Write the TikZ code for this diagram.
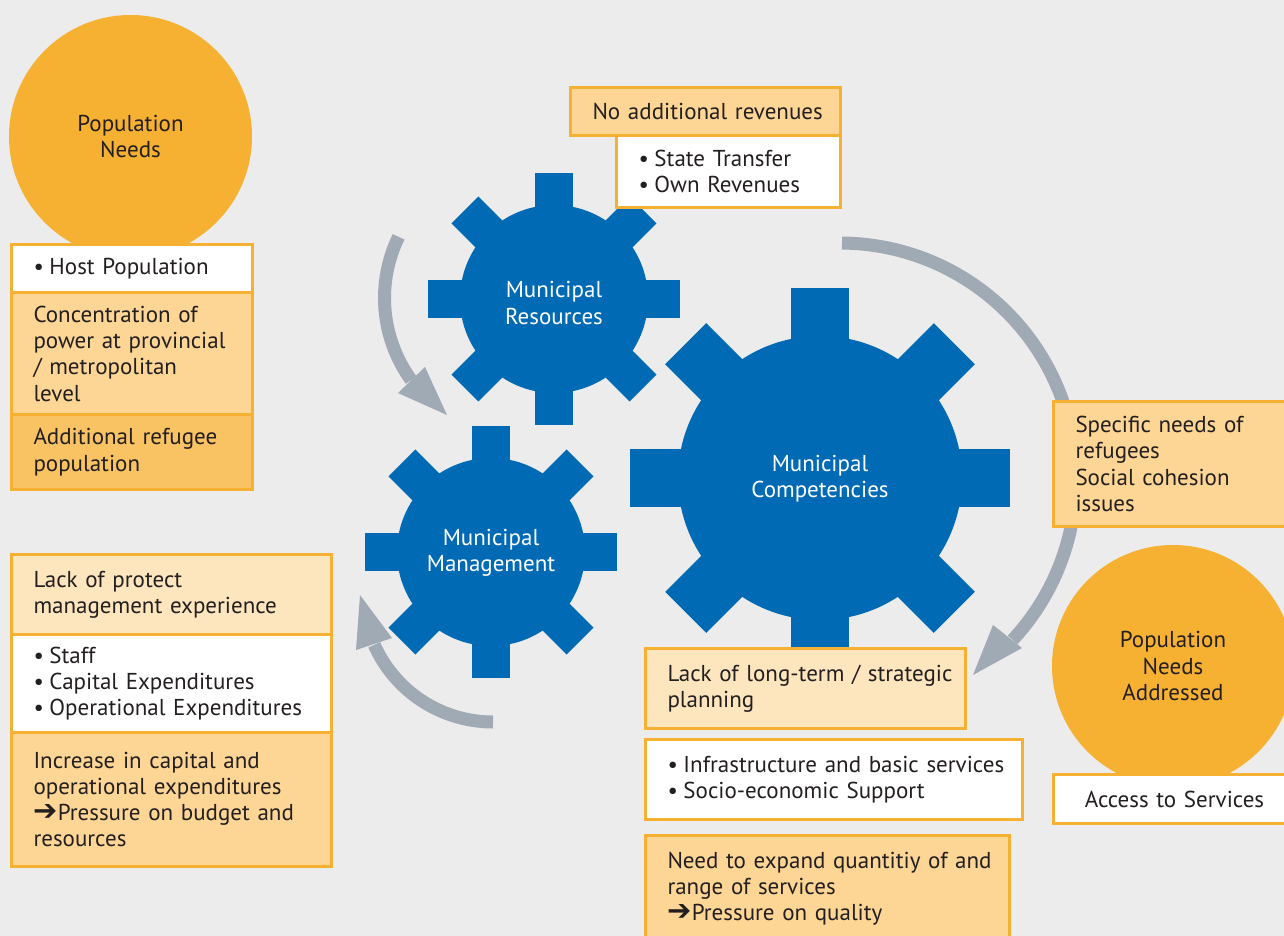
\documentclass[tikz,border=0pt]{standalone}
\usepackage{fontspec}
\setmainfont{PT Sans}
\newfontfamily\symfont{DejaVu Sans}
\usetikzlibrary{calc}
\definecolor{bg}{HTML}{EBECEB}
\definecolor{orng}{HTML}{F6B133}
\definecolor{gearblue}{HTML}{016AB5}
\definecolor{boxlight}{HTML}{FDE5BE}
\definecolor{boxmed}{HTML}{FDD594}
\definecolor{boxdark}{HTML}{F9C263}
\definecolor{arrowgray}{HTML}{A0AAB4}
\definecolor{txt}{HTML}{231F20}
\newcommand{\bul}{\makebox[16pt][l]{•}}
\newcommand{\rarr}{{\symfont\fontsize{29}{26.3}\selectfont ➔}}
\newcommand{\drawgear}[5]{%
  \fill[gearblue] (#1,#2) circle[radius=#3];
  \foreach \a in {0,45,...,315}{
    \fill[gearblue, shift={(#1,#2)}, rotate=\a] (-#5/2,0) rectangle (#5/2,#4);
  }
}
\begin{document}
\begin{tikzpicture}[x=1pt,y=-1pt,
  every node/.style={font=\fontsize{23}{26.3}\selectfont, text=txt},
  bx/.style={draw=orng, line width=3pt, anchor=north west, inner xsep=22pt, inner ysep=0pt, align=left},
  ctr/.style={align=center},
  circ/.style={circle, fill=orng, draw=none, inner sep=0pt, align=center},
  geartxt/.style={text=white, align=center},
  garrow/.style={draw=arrowgray, line width=13pt},
  ghead/.style={fill=arrowgray}
]
\useasboundingbox (0,0) rectangle (1284,936);
\clip (0,0) rectangle (1284,936);
\fill[bg] (0,0) rectangle (1284,936);

% circles
\node[circ, minimum size=243pt] (pn) at (130.5,136.5) {Population\\Needs};
\node[circ, minimum size=242pt] (pna) at (1173,666) {Population\\Needs\\Addressed};

% arrows
\draw[garrow] plot[domain=206:144, samples=40, variable=\t] ({524+139.5*cos(\t)},{298+139.5*sin(\t)});
\fill[ghead] (398,393) -- (447,415) -- (425,367) -- cycle;
\draw[garrow] plot[domain=90:156, samples=40, variable=\t] ({493+130*cos(\t)},{592+130*sin(\t)});
\fill[ghead] (356,650) -- (360,595) -- (392,638) -- cycle;
\draw[garrow] plot[domain=-89.5:43, samples=60, variable=\t] ({840+236*cos(\t)},{479+236*sin(\t)});
\fill[ghead] (993,625) -- (973,675) -- (1022,648) -- cycle;

% gears
\drawgear{554}{299}{94}{126}{38}
\drawgear{491}{552}{94}{126}{38}
\drawgear{820}{478}{142}{190}{58}
\node[geartxt] (gres) at (554,303) {Municipal\\Resources};
\node[geartxt] (gman) at (491,553) {Municipal\\Management};
\node[geartxt] (gcom) at (820,479) {Municipal\\Competencies};

% left boxes
\node[bx, fill=white, minimum height=48pt, text width=197pt] (host) at (10,243) {\bul Host Population};
\node[bx, fill=boxmed, minimum height=122pt, text width=197pt] (conc) at (10,291) {Concentration of\\\mbox{power at provincial}\\/ metropolitan\\level};
\node[bx, fill=boxdark, minimum height=75pt, text width=197pt] (addr) at (10,413) {Additional refugee\\population};

\node[bx, fill=boxlight, minimum height=80pt, text width=276pt] (lpm) at (10,553) {Lack of protect\\management experience};
\node[bx, fill=white, minimum height=98pt, text width=276pt] (staff) at (10,633) {\bul Staff\\\bul Capital Expenditures\\\bul \mbox{Operational Expenditures}};
\node[bx, fill=boxmed, minimum height=134pt, text width=276pt] (incr) at (10,731) {Increase in capital and\\operational expenditures\\\rarr Pressure on budget and\\resources};

% top boxes
\node[bx, ctr, fill=boxmed, minimum height=48pt, text width=226pt] (norev) at (569,86) {\mbox{No additional revenues}};
\node[bx, fill=white, minimum height=72pt, text width=180pt] (state) at (615,134) {\bul State Transfer\\\bul Own Revenues};

% right boxes
\node[bx, fill=boxmed, minimum height=125pt, text width=196pt] (spec) at (1052,400) {Specific needs of\\refugees\\Social cohesion\\issues};
\node[bx, ctr, fill=white, minimum height=49pt, text width=198pt] (acc) at (1052,773) {\mbox{Access to Services}};

% bottom boxes
\node[bx, fill=boxlight, minimum height=80pt, text width=276pt] (ltp) at (644,647) {\mbox{Lack of long-term / strategic}\\planning};
\node[bx, fill=white, minimum height=80pt, text width=333pt] (infra) at (644,738) {\bul \mbox{Infrastructure and basic services}\\\bul Socio-economic Support};
\node[bx, fill=boxmed, minimum height=106pt, text width=320pt] (need) at (644,834) {\mbox{Need to expand quantitiy of and}\\range of services\\\rarr Pressure on quality};
\end{tikzpicture}
\end{document}
